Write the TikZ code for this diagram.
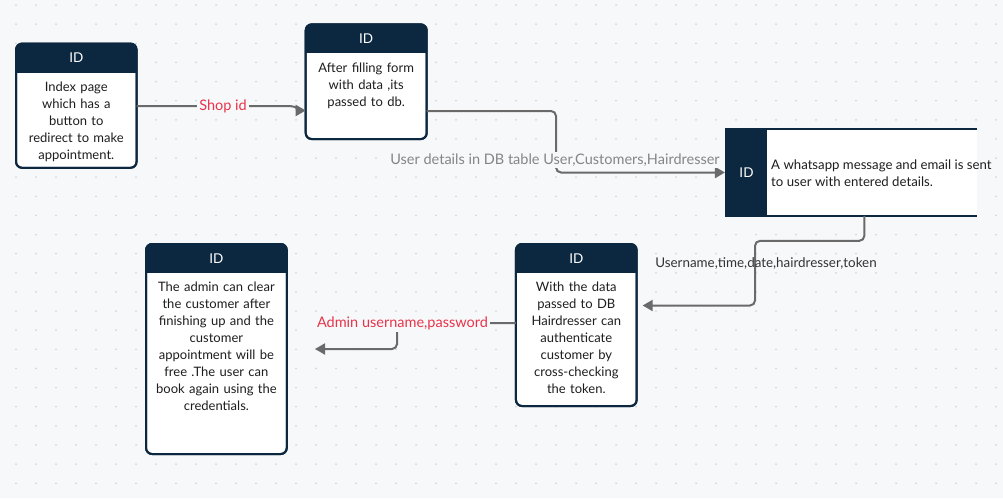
\documentclass[tikz,border=0pt]{standalone}
\usepackage{fontspec}
\setmainfont{Lato}
\usetikzlibrary{arrows.meta}
\definecolor{navy}{HTML}{0C2740}
\definecolor{bgc}{HTML}{F7F8FA}
\definecolor{dotc}{HTML}{D4D6DB}
\definecolor{connc}{HTML}{6A6A6A}
\definecolor{lblred}{HTML}{E8344A}
\definecolor{lblgray}{HTML}{858585}
\definecolor{lbldark}{HTML}{333333}
\definecolor{bodyc}{HTML}{1E1E1E}
\newcommand{\flowbox}[6]{%
  \node[frame, minimum width=#4pt, minimum height=#5pt] (#1) at (#2,#3) {};
  \begin{scope}
    \clip[rounded corners=6pt] (#1.north west) rectangle (#1.south east);
    \fill[navy] (#1.north west) rectangle ([yshift=-29pt]#1.north east);
  \end{scope}
  \draw[navy, line width=2pt, rounded corners=6pt] (#1.north west) rectangle (#1.south east);
  \node[hdr] (#1-h) at ([yshift=-14.5pt]#1.north) {ID};
  \node[body] (#1-b) at ([yshift=-38pt]#1.north) {#6};
}
\begin{document}
\begin{tikzpicture}[x=1pt,y=-1pt,
  frame/.style={draw=navy, line width=2pt, rounded corners=6pt, fill=white, inner sep=0pt, outer sep=0pt},
  hdr/.style={text=white, font=\fontsize{13.5}{15}\selectfont, inner sep=0pt},
  body/.style={align=center, text width=130pt, font=\fontsize{13}{17}\selectfont, text=bodyc, anchor=north, inner sep=0pt},
  conn/.style={draw=connc, line width=2pt, rounded corners=5pt, -{Triangle[length=10pt,width=11pt]}},
  lbl/.style={font=\fontsize{14.5}{16}\selectfont, inner sep=2pt},
]
\useasboundingbox (0,0) rectangle (1003,498);
\fill[bgc] (0,0) rectangle (1003,498);
\foreach \i in {0,...,49}{
  \foreach \j in {0,...,25}{
    \fill[dotc] ({16+20*\i},{5+19.13*\j}) circle (1pt);
  }
}

% boxes
\flowbox{A}{76.3}{105.7}{120.5}{124.2}{Index page\\which has a\\button to\\redirect to make\\appointment.}
\flowbox{B}{366.2}{81.7}{121}{114.7}{After filling form\\with data ,its\\passed to db.}
\flowbox{D}{576.3}{325}{120.7}{162}{With the data\\passed to DB\\Hairdresser can\\authenticate\\customer by\\cross-checking\\the token.}
\flowbox{E}{216.4}{349}{140.7}{210}{The admin can clear\\the customer after\\finishing up and the\\customer\\appointment will be\\free .The user can\\book again using the\\credentials.}

% box C (open on the right)
\node[fill=white, inner sep=0pt, outer sep=0pt, minimum width=251.7pt, minimum height=86.7pt] (C) at (850.8,172.5) {};
\fill[navy] (C.north west) rectangle ([xshift=41.7pt]C.south west);
\draw[navy, line width=2pt] (C.north west) -- (C.north east);
\draw[navy, line width=2pt] (C.south west) -- (C.south east);
\node[hdr] (C-h) at (746.5,173) {ID};
\node[anchor=west, align=left, inner sep=0pt, text=bodyc, font=\fontsize{13.2}{17}\selectfont] (C-b) at (771,173.5) {A whatsapp message and email is sent\\to user with entered details.};

% connectors
\draw[conn, rounded corners=0pt] ([yshift=-0.5pt]A.east) -- (291,106.2) .. controls (297,106.2) and (299,110.5) .. ([yshift=-28.8pt]B.west);
\node[lbl, fill=bgc, text=lblred] (l1) at (223,106) {Shop id};

\draw[conn] ([yshift=-29.3pt]B.east) -| (556,140) |- (C.west);
\node[lbl, fill=bgc, text=lblgray] (l2) at (555,160) {User details in DB table User,Customers,Hairdresser};

\draw[conn, shorten >=6pt] ([xshift=13.5pt]C.south) -- ++(0,25) -| (755,270) |- ([yshift=19.5pt]D.east);
\node[lbl, text=lbldark, font=\fontsize{13.4}{15}\selectfont] (l3) at (766,263) {Username,time,date,hairdresser,token};

\coordinate (aend) at (315,349);
\draw[conn] ([yshift=2pt]D.west) -| (397,340) |- (aend);
\node[lbl, fill=bgc, text=lblred] (l4) at (402.5,323.5) {Admin username,password};
\end{tikzpicture}
\end{document}
